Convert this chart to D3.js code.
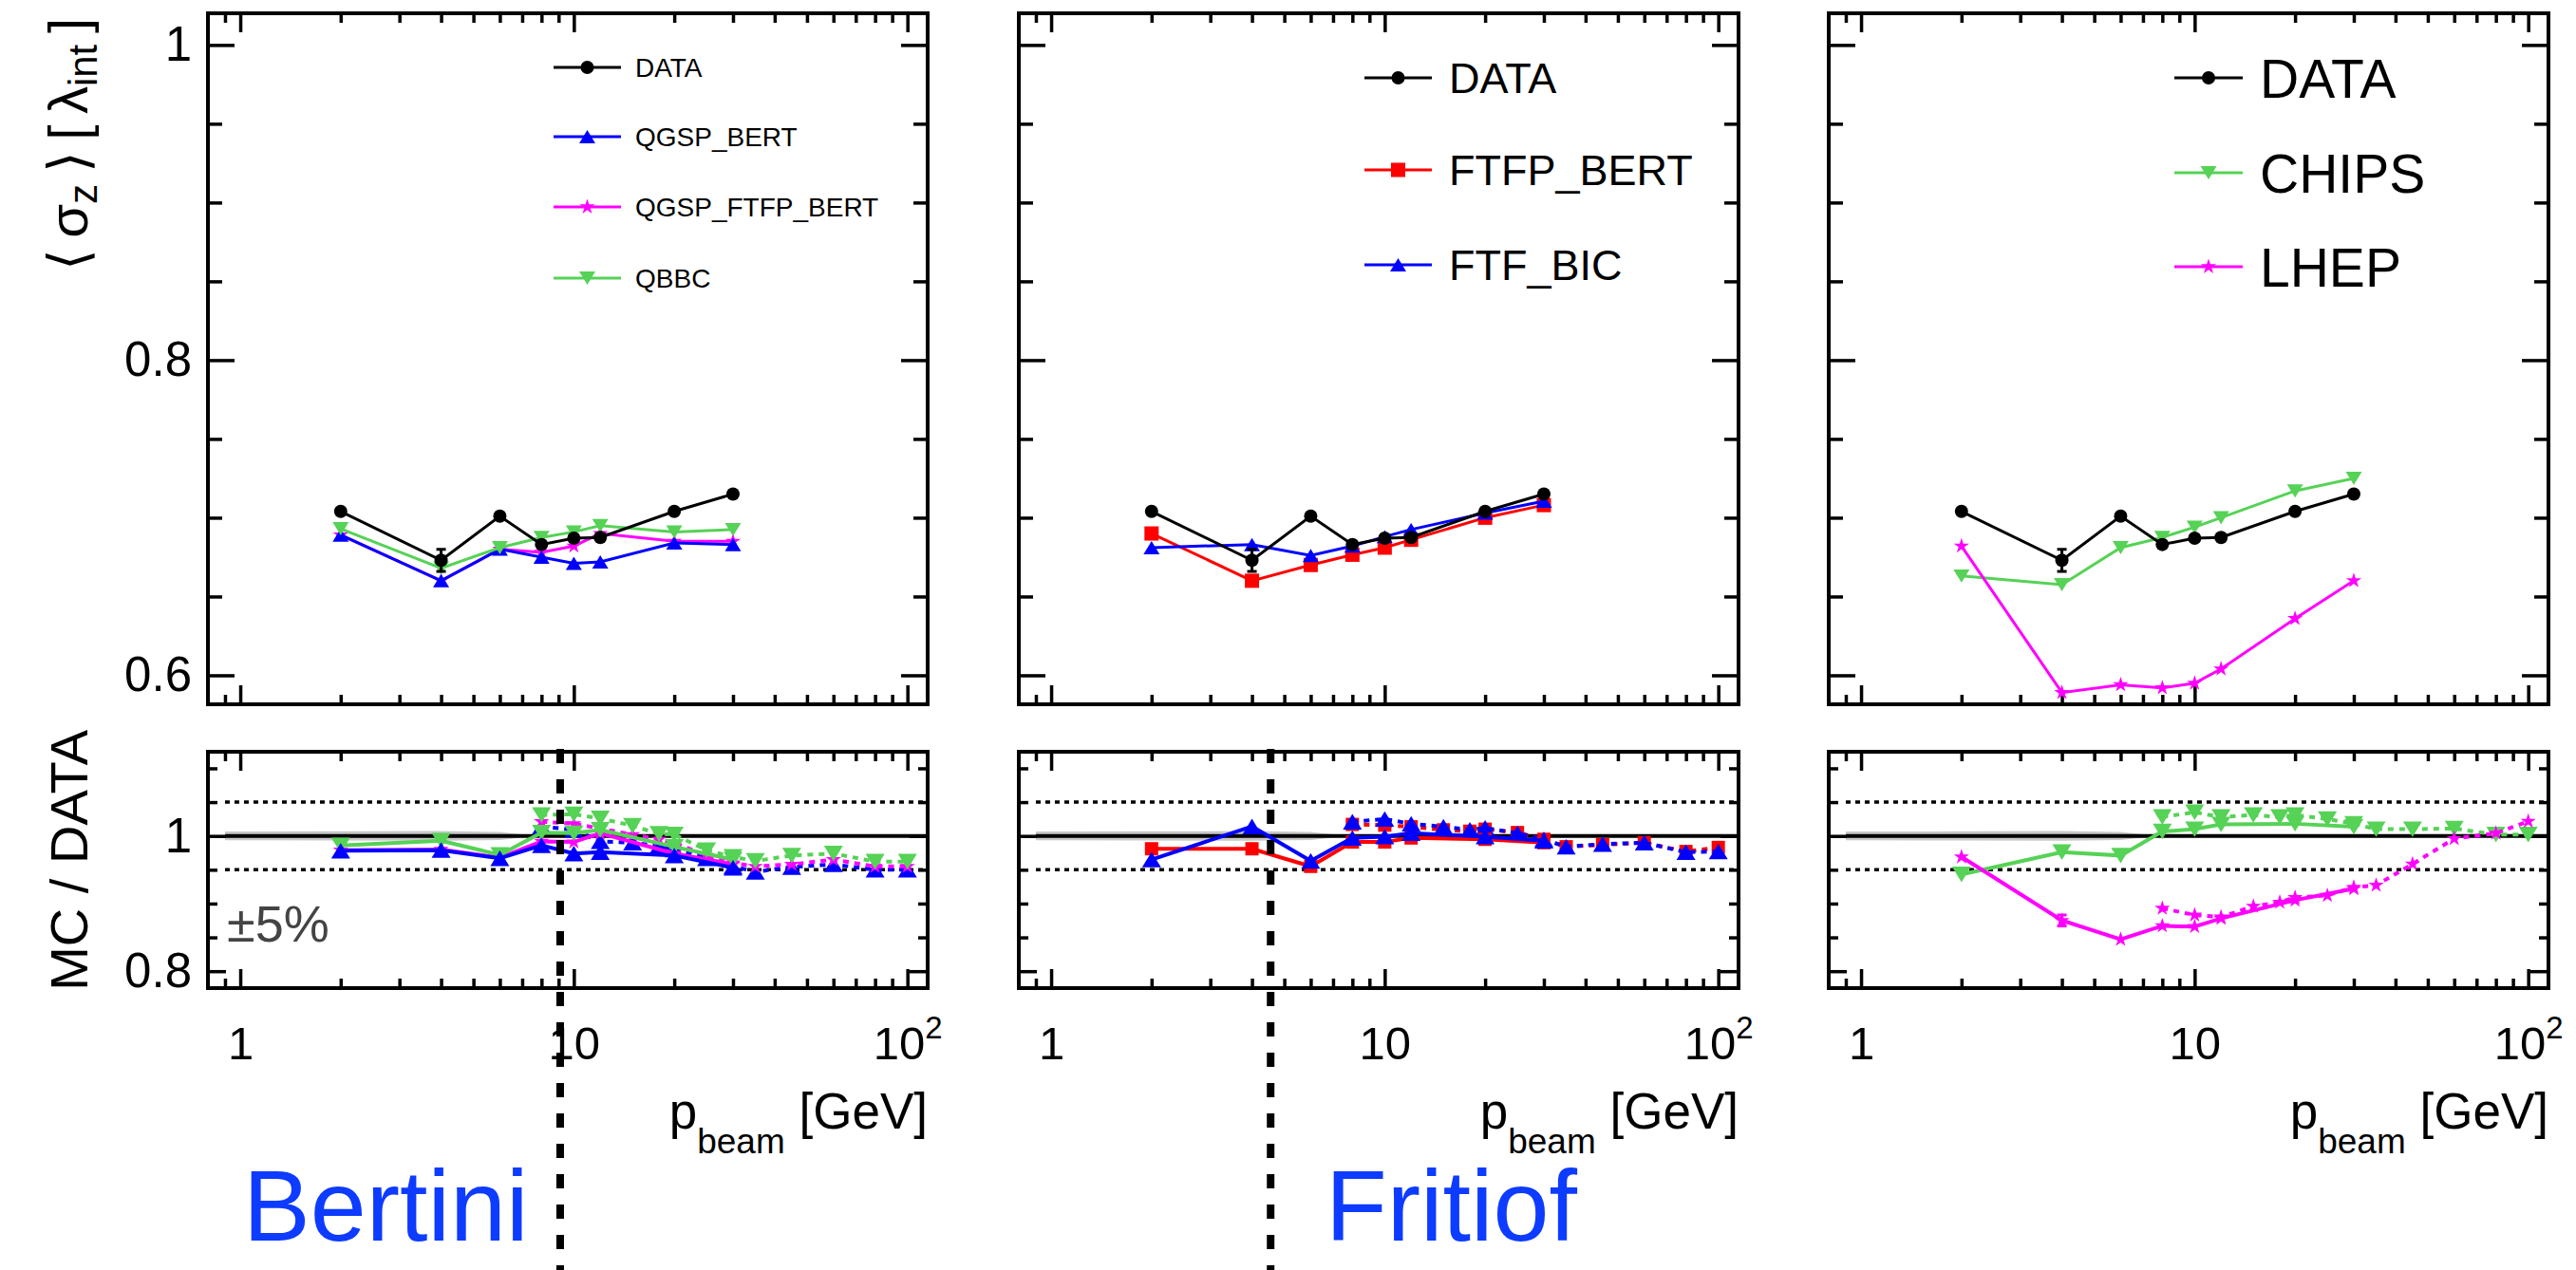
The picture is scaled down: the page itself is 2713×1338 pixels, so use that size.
<!DOCTYPE html>
<html>
<head>
<meta charset="utf-8">
<script src="https://cdn.jsdelivr.net/npm/d3@7"></script>
<style>
  body { margin: 0; background: #fff; }
  svg { display: block; }
</style>
</head>
<body>
<div id="chart"></div>
<script>

// beam momenta [GeV]
const energies = [2, 4, 6, 8, 10, 12, 20, 30];
const energiesExt = [8, 10, 12, 15, 18, 20, 25, 30, 35, 45, 60, 80, 100];

// <sigma_z> [lambda_int]
const dataSigma = [0.704, 0.673, 0.701, 0.683, 0.687, 0.6875, 0.704, 0.715];
const dataErr = [0.002, 0.007, 0.002, 0.002, 0.002, 0.002, 0.002, 0.002];
const qgspBert = [0.689, 0.660, 0.680, 0.675, 0.671, 0.672, 0.684, 0.683];
const qgspFtfpBert = [0.689, 0.660, 0.680, 0.678, 0.682, 0.690, 0.685, 0.685];
const qbbc = [0.693, 0.668, 0.681, 0.6875, 0.691, 0.695, 0.691, 0.6925];
const ftfpBert = [0.690, 0.660, 0.670, 0.6765, 0.681, 0.686, 0.700, 0.708];
const ftfBic = [0.681, 0.683, 0.676, 0.682, 0.688, 0.6925, 0.703, 0.7105];
const chips = [0.663, 0.6575, 0.681, 0.6875, 0.694, 0.700, 0.717, 0.725];
const lhep = [0.682, 0.589, 0.594, 0.592, 0.595, 0.604, 0.636, 0.660];

// MC / DATA, same energies (solid lines)
const rQgspBert = [0.978, 0.979, 0.967, 0.986, 0.974, 0.976, 0.971, 0.953];
const rQgspFtfpBert = [0.979, 0.980, 0.968, 0.992, 0.991, 1.004, 0.974, 0.958];
const rQbbc = [0.986, 0.993, 0.972, 1.005, 1.004, 1.009, 0.984, 0.965];
const rFtfpBert = [0.981, 0.981, 0.955, 0.991, 0.991, 0.997, 0.995, 0.990];
const rFtfBic = [0.965, 1.014, 0.963, 0.997, 0.999, 1.004, 0.999, 0.993];
const rChips = [0.943, 0.976, 0.971, 1.0065, 1.010, 1.017, 1.018, 1.0135];
const rLhep = [0.969, 0.875, 0.847, 0.867, 0.866, 0.878, 0.905, 0.922];
const rLhepErr = [0, 0.008, 0, 0, 0, 0, 0, 0];

// MC / DATA, extended energies (dotted lines)
const eQgspBert = [1.014, 1.009, 0.992, 0.990, 0.985, 0.980, 0.967, 0.955, 0.947, 0.954, 0.958, 0.950, 0.950];
const eQgspFtfpBert = [1.021, 1.018, 1.011, 1.002, 0.995, 0.990, 0.971, 0.960, 0.955, 0.958, 0.965, 0.955, 0.955];
const eQbbc = [1.031, 1.032, 1.026, 1.015, 1.003, 1.002, 0.979, 0.969, 0.963, 0.971, 0.974, 0.962, 0.962];
const eFtfpBert = [1.017, 1.016, 1.0135, 1.009, 1.007, 1.010, 1.005, 0.995, 0.984, 0.987, 0.990, 0.977, 0.983];
const eFtfBic = [1.021, 1.025, 1.018, 1.0136, 1.009, 1.012, 1.004, 0.995, 0.984, 0.988, 0.990, 0.976, 0.977];
const eChips = [1.028, 1.035, 1.028, 1.031, 1.028, 1.031, 1.025, 1.018, 1.010, 1.010, 1.011, 1.002, 1.002];
const eLhep = [0.893, 0.883, 0.880, 0.896, 0.902, 0.909, 0.912, 0.924, 0.927, 0.9585, 0.996, 1.004, 1.0216];

// data uncertainty band in the ratio
const bandX = [0.9, 2, 4, 6, 7.8];
const bandErr = [0.0065, 0.0068, 0.0072, 0.006, 0];

// ticks
const xMajorTicks = [1, 10, 100];
const xMinorTicks = [0.9, 2, 3, 4, 5, 6, 7, 8, 9, 20, 30, 40, 50, 60, 70, 80, 90];
const yTopMajor = [0.6, 0.8, 1.0];
const yTopMinor = [0.65, 0.7, 0.75, 0.85, 0.9, 0.95];
const yRatioMajor = [0.8, 1.0];
const yRatioMinor = [0.85, 0.9, 0.95, 1.05, 1.1];
const refLevel = 1.0;
const toleranceLevels = [0.95, 1.05];
const refLineX = [0.9, 115];

const modelBoundaries = [9.1, 4.55, null];
const modelNames = ['Bertini', 'Fritiof', ''];

const FONT = '"Liberation Sans", Arial, Helvetica, sans-serif';
const COL = { data: '#000000', blue: '#0000ff', magenta: '#ff00ff', green: '#56d256', red: '#ff0000' };

const panelLeft = [219, 1073, 1926];
const panelWidth = 758;
const topY = 14, topHeight = 728;
const ratioY = 792, ratioHeight = 249;

const x = d3.scaleLog().domain([0.8, 115]).range([0, panelWidth]);
const yTop = d3.scaleLinear().domain([0.5816, 1.0201]).range([topHeight, 0]);
const yRatio = d3.scaleLinear().domain([0.775, 1.1245]).range([ratioHeight, 0]);

const dataStyle = { name: 'DATA', color: COL.data, shape: 'circle' };

// legend order / draw order
const panels = [
    {
        legend: { x1: 583, x2: 654, tx: 669, rows: [71, 144, 218, 293], font: 28 },
        labelX: 37,
        top: [
            { name: 'QGSP_BERT', values: qgspBert, color: COL.blue, shape: 'triUp' },
            { name: 'QGSP_FTFP_BERT', values: qgspFtfpBert, color: COL.magenta, shape: 'star' },
            { name: 'QBBC', values: qbbc, color: COL.green, shape: 'triDown' }
        ],
        drawOrder: [1, 0, 2],
        ratio: [
            { values: eQgspBert, ext: true, color: COL.blue, shape: 'triUp' },
            { values: eQgspFtfpBert, ext: true, color: COL.magenta, shape: 'star' },
            { values: eQbbc, ext: true, color: COL.green, shape: 'triDown' },
            { values: rQgspFtfpBert, color: COL.magenta, shape: 'star' },
            { values: rQbbc, color: COL.green, shape: 'triDown' },
            { values: rQgspBert, color: COL.blue, shape: 'triUp' }
        ]
    },
    {
        legend: { x1: 1437, x2: 1508, tx: 1526, rows: [82, 179, 279], font: 45 },
        labelX: 323,
        top: [
            { name: 'FTFP_BERT', values: ftfpBert, color: COL.red, shape: 'square' },
            { name: 'FTF_BIC', values: ftfBic, color: COL.blue, shape: 'triUp' }
        ],
        drawOrder: [0, 1],
        ratio: [
            { values: eFtfpBert, ext: true, color: COL.red, shape: 'square' },
            { values: eFtfBic, ext: true, color: COL.blue, shape: 'triUp' },
            { values: rFtfpBert, color: COL.red, shape: 'square' },
            { values: rFtfBic, color: COL.blue, shape: 'triUp' }
        ]
    },
    {
        legend: { x1: 2290, x2: 2362, tx: 2380, rows: [82, 182, 281], font: 57 },
        labelX: 0,
        top: [
            { name: 'CHIPS', values: chips, color: COL.green, shape: 'triDown' },
            { name: 'LHEP', values: lhep, color: COL.magenta, shape: 'star' }
        ],
        drawOrder: [0, 1],
        ratio: [
            { values: eChips, ext: true, color: COL.green, shape: 'triDown' },
            { values: eLhep, ext: true, color: COL.magenta, shape: 'star' },
            { values: rChips, color: COL.green, shape: 'triDown' },
            { values: rLhep, errors: rLhepErr, color: COL.magenta, shape: 'star' }
        ]
    }
];

const markerSizeTop = { circle: 14, square: 15, triUp: 17, triDown: 17, star: 17 };
const markerSizeRatio = { circle: 14, square: 14, triUp: 20, triDown: 20, star: 17 };

const markerPath = (shape, s) => {
    if (shape === 'circle') return d3.symbol(d3.symbolCircle, Math.PI * s * s / 4)();
    if (shape === 'square') return d3.symbol(d3.symbolSquare, s * s)();
    if (shape === 'star') return d3.symbol(d3.symbolStar, (s * s / 4) / 0.8908)();
    const h = s * 0.82;
    const dir = shape === 'triUp' ? 1 : -1;
    return `M0,${-dir * h / 2}L${s / 2},${dir * h / 2}L${-s / 2},${dir * h / 2}Z`;
};

const svg = d3.select('#chart')
    .append('svg')
    .attr('width', 2713)
    .attr('height', 1338)
    .style('font-family', FONT);

svg.append('rect').attr('width', 2713).attr('height', 1338).attr('fill', '#fff');

const styleAxis = (sel, fontSize) => {
    sel.select('.domain').remove();
    sel.selectAll('line').attr('stroke', '#000').attr('stroke-width', 3.5);
    sel.selectAll('text').attr('font-family', FONT).attr('font-size', fontSize).attr('fill', '#000');
    sel.selectAll('.tick text').filter(function () { return !this.textContent; }).remove();
    sel.attr('font-family', null).attr('font-size', null);
};

const drawAxes = (g, y, h, o) => {
    const noLabel = () => '';
    // bottom
    g.append('g').attr('transform', `translate(0,${h})`)
        .call(d3.axisBottom(x).tickValues(xMajorTicks).tickSizeInner(-o.xMajorLen).tickSizeOuter(0)
            .tickPadding(40).tickFormat(o.xLabels ? (d => d === 100 ? '10' : String(d)) : noLabel))
        .call(s => styleAxis(s, 49))
        .call(s => {
            if (!o.xLabels) return;
            s.selectAll('.tick text').filter(d => d === 100)
                .append('tspan').attr('dy', -22).attr('font-size', 33).text('2');
        });
    g.append('g').attr('transform', `translate(0,${h})`)
        .call(d3.axisBottom(x).tickValues(xMinorTicks).tickSizeInner(-o.xMinorLen).tickSizeOuter(0).tickFormat(noLabel))
        .call(s => styleAxis(s, 49));
    // top
    g.append('g')
        .call(d3.axisTop(x).tickValues(xMajorTicks).tickSizeInner(-o.xMajorLen).tickSizeOuter(0).tickFormat(noLabel))
        .call(s => styleAxis(s, 49));
    g.append('g')
        .call(d3.axisTop(x).tickValues(xMinorTicks).tickSizeInner(-o.xMinorLen).tickSizeOuter(0).tickFormat(noLabel))
        .call(s => styleAxis(s, 49));
    // left
    g.append('g')
        .call(d3.axisLeft(y).tickValues(o.yMajor).tickSizeInner(-o.yMajorLen).tickSizeOuter(0).tickPadding(17)
            .tickFormat(o.yLabels ? (d => d === 1 ? '1' : d3.format('.1f')(d)) : noLabel))
        .call(s => styleAxis(s, 51));
    g.append('g')
        .call(d3.axisLeft(y).tickValues(o.yMinor).tickSizeInner(-o.yMinorLen).tickSizeOuter(0).tickFormat(noLabel))
        .call(s => styleAxis(s, 51));
    // right
    g.append('g').attr('transform', `translate(${panelWidth},0)`)
        .call(d3.axisRight(y).tickValues(o.yMajor).tickSizeInner(-o.yMajorLen).tickSizeOuter(0).tickFormat(noLabel))
        .call(s => styleAxis(s, 51));
    g.append('g').attr('transform', `translate(${panelWidth},0)`)
        .call(d3.axisRight(y).tickValues(o.yMinor).tickSizeInner(-o.yMinorLen).tickSizeOuter(0).tickFormat(noLabel))
        .call(s => styleAxis(s, 51));
    g.append('rect')
        .attr('width', panelWidth).attr('height', h)
        .attr('fill', 'none').attr('stroke', '#000').attr('stroke-width', 4);
};

const drawSeries = (g, xs, ys, errs, s, y, o) => {
    const pts = xs.map((e, i) => ({ e, v: ys[i], err: errs ? errs[i] : 0 }));
    g.append('path')
        .datum(pts)
        .attr('fill', 'none')
        .attr('stroke', s.color)
        .attr('stroke-width', o.lineWidth)
        .attr('stroke-dasharray', o.dotted ? '6,6' : null)
        .attr('d', d3.line().x(d => x(d.e)).y(d => y(d.v)));
    const withErr = pts.filter(d => d.err > 0);
    g.selectAll(null).data(withErr).join('path')
        .attr('fill', 'none').attr('stroke', s.color).attr('stroke-width', 3)
        .attr('d', d => {
            const cx = x(d.e), y1 = y(d.v + d.err), y2 = y(d.v - d.err);
            return `M${cx},${y1}V${y2}M${cx - 5},${y1}H${cx + 5}M${cx - 5},${y2}H${cx + 5}`;
        });
    g.selectAll(null).data(pts).join('path')
        .attr('transform', d => `translate(${x(d.e)},${y(d.v)})`)
        .attr('d', markerPath(s.shape, o.markerSize[s.shape]))
        .attr('fill', s.color);
};

panels.forEach((p, i) => {
    const left = panelLeft[i];

    // main panel
    const gTop = svg.append('g').attr('transform', `translate(${left},${topY})`);
    drawAxes(gTop, yTop, topHeight, {
        yMajor: yTopMajor, yMinor: yTopMinor, yMajorLen: 28, yMinorLen: 15,
        xMajorLen: 20, xMinorLen: 10, yLabels: i === 0, xLabels: false
    });
    p.drawOrder.forEach(k => drawSeries(gTop, energies, p.top[k].values, null, p.top[k], yTop,
        { lineWidth: 3, markerSize: markerSizeTop }));
    drawSeries(gTop, energies, dataSigma, dataErr, dataStyle, yTop,
        { lineWidth: 3, markerSize: markerSizeTop });

    // legend
    const L = p.legend;
    [dataStyle, ...p.top].forEach((s, k) => {
        const ly = L.rows[k];
        svg.append('line')
            .attr('x1', L.x1).attr('x2', L.x2).attr('y1', ly).attr('y2', ly)
            .attr('stroke', s.color).attr('stroke-width', 3);
        svg.append('path')
            .attr('transform', `translate(${(L.x1 + L.x2) / 2},${ly})`)
            .attr('d', markerPath(s.shape, markerSizeTop[s.shape]))
            .attr('fill', s.color);
        svg.append('text')
            .attr('x', L.tx).attr('y', ly).attr('dy', '0.36em')
            .attr('font-size', L.font)
            .text(s.name);
    });

    // ratio panel
    const gRatio = svg.append('g').attr('transform', `translate(${left},${ratioY})`);
    gRatio.append('path')
        .datum(bandX.map((e, k) => ({ e, err: bandErr[k] })))
        .attr('fill', '#c8c8c8')
        .attr('d', d3.area().x(d => x(d.e)).y0(d => yRatio(refLevel - d.err)).y1(d => yRatio(refLevel + d.err)));
    gRatio.append('line')
        .attr('x1', x(refLineX[0])).attr('x2', x(refLineX[1]))
        .attr('y1', yRatio(refLevel)).attr('y2', yRatio(refLevel))
        .attr('stroke', '#000').attr('stroke-width', 4);
    gRatio.selectAll(null).data(toleranceLevels).join('line')
        .attr('x1', x(refLineX[0])).attr('x2', x(refLineX[1]))
        .attr('y1', d => yRatio(d)).attr('y2', d => yRatio(d))
        .attr('stroke', '#000').attr('stroke-width', 3.5).attr('stroke-dasharray', '5,5');
    drawAxes(gRatio, yRatio, ratioHeight, {
        yMajor: yRatioMajor, yMinor: yRatioMinor, yMajorLen: 19, yMinorLen: 10,
        xMajorLen: 20, xMinorLen: 10, yLabels: i === 0, xLabels: true
    });
    p.ratio.forEach(s => drawSeries(gRatio, s.ext ? energiesExt : energies, s.values, s.errors, s, yRatio,
        { lineWidth: 4, dotted: !!s.ext, markerSize: markerSizeRatio }));

    // x axis title
    const xt = svg.append('text')
        .attr('x', left + panelWidth).attr('y', 1189)
        .attr('text-anchor', 'end').attr('font-size', 53);
    xt.append('tspan').text('p');
    xt.append('tspan').attr('font-size', 37).attr('dy', 26).text('beam');
    xt.append('tspan').attr('dy', -26).text(' [GeV]');

    if (modelNames[i]) {
        svg.append('text')
            .attr('x', left + p.labelX).attr('y', 1307)
            .attr('font-size', 106).attr('fill', '#0d3bff')
            .text(modelNames[i]);
    }
    if (modelBoundaries[i]) {
        svg.append('line')
            .attr('x1', left + x(modelBoundaries[i])).attr('x2', left + x(modelBoundaries[i]))
            .attr('y1', 789).attr('y2', 1338)
            .attr('stroke', '#000').attr('stroke-width', 8).attr('stroke-dasharray', '15,17');
    }
});

// axis titles and annotation
const yt = svg.append('text')
    .attr('transform', 'translate(92,19) rotate(-90)')
    .attr('text-anchor', 'end').attr('font-size', 58);
yt.append('tspan').text('\u27E8\u2009\u03C3');
yt.append('tspan').attr('font-size', 42).attr('dy', 10).text('z');
yt.append('tspan').attr('dy', -10).text('\u2009\u27E9\u2009[\u2009\u03BB');
yt.append('tspan').attr('font-size', 42).attr('dy', 10).text('int');
yt.append('tspan').attr('dy', -10).text('\u2009]');

svg.append('text')
    .attr('transform', 'translate(92,769) rotate(-90)')
    .attr('text-anchor', 'end').attr('font-size', 56)
    .text('MC / DATA');

svg.append('text')
    .attr('x', 239).attr('y', 992)
    .attr('font-size', 54).attr('fill', '#444')
    .text('\u00B15%');

</script>
</body>
</html>
